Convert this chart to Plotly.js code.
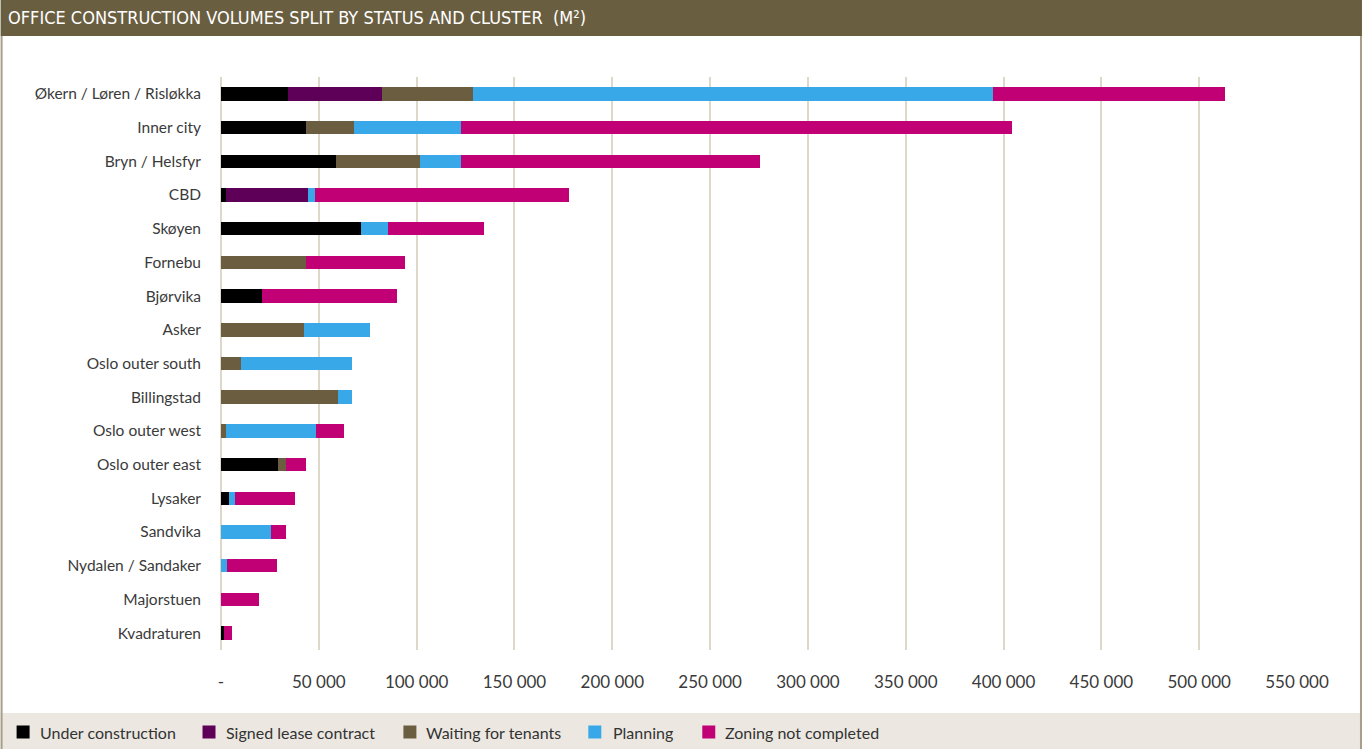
<!DOCTYPE html>
<html>
<head>
<meta charset="utf-8">
<script src="https://cdn.plot.ly/plotly-3.0.1.min.js"></script>
<style>
html,body{margin:0;padding:0;background:#fff;overflow:hidden;}
#chart{position:absolute;left:0;top:0;width:1369px;height:749px;}
</style>
</head>
<body>
<div id="chart"></div>
<script>
// ---- data ----
var clusters = ["Økern / Løren / Risløkka","Inner city","Bryn / Helsfyr","CBD","Skøyen","Fornebu","Bjørvika","Asker","Oslo outer south","Billingstad","Oslo outer west","Oslo outer east","Lysaker","Sandvika","Nydalen / Sandaker","Majorstuen","Kvadraturen"];
var underConstruction = [34000,43700,59000,2800,71800,0,21200,0,0,0,0,28900,4300,0,0,0,1300];
var signedLease       = [48500,0,0,41900,0,0,0,0,0,0,0,0,0,0,0,0,0];
var waitingTenants    = [46500,24500,42900,0,0,43700,0,42200,10000,60000,2800,4100,0,0,0,0,0];
var planning          = [265700,54700,21000,3600,13800,0,0,34200,57200,7200,46000,0,3100,25800,3300,0,0];
var zoningNotDone     = [118600,281500,152800,129800,49000,50600,69000,0,0,0,14300,10200,30200,7200,25100,19200,4100];
var seriesNames = ["Under construction","Signed lease contract","Waiting for tenants","Planning","Zoning not completed"];
var tickValues = [0,50000,100000,150000,200000,250000,300000,350000,400000,450000,500000,550000];
var tickLabels = ["-","50 000","100 000","150 000","200 000","250 000","300 000","350 000","400 000","450 000","500 000","550 000"];
var chartTitle = "OFFICE CONSTRUCTION VOLUMES SPLIT BY STATUS AND CLUSTER  (M²)";

// ---- styling ----
var colors = ["#000000","#5E0058","#6B5E40","#38A8E8","#C20076"];
var seriesValues = [underConstruction, signedLease, waitingTenants, planning, zoningNotDone];
var W = 1369, H = 749;
var ML = 220.5, MR = 72, MT = 77, MB = 99;
var PW = W - ML - MR, PH = H - MT - MB;
function px(x){ return (x - ML) / PW; }
function py(y){ return (H - MB - y) / PH; }

var bodyFont = "Lato, 'Open Sans', sans-serif";
var traces = seriesValues.map(function(vals, i){
  return {
    type: "bar", orientation: "h",
    name: seriesNames[i],
    y: clusters, x: vals,
    marker: {color: colors[i], line: {width: 0}},
    hoverinfo: "x+y+name",
    showlegend: false
  };
});

// manual legend (pixel positions of swatches and labels)
var legSwatchX = [16, 202, 403, 588, 702];
var legTextX = [37, 224, 424, 611, 723];
var legY = 732;
var legendShapes = [], legendAnn = [];
seriesNames.forEach(function(n, i){
  legendShapes.push({type: "rect", xref: "paper", yref: "paper",
    x0: px(legSwatchX[i]), x1: px(legSwatchX[i] + 13),
    y0: py(legY - 6.5), y1: py(legY + 6.5),
    fillcolor: colors[i], line: {width: 0}});
  legendAnn.push({xref: "paper", yref: "paper", x: px(legTextX[i]), y: py(legY),
    xanchor: "left", yanchor: "middle", showarrow: false, text: n,
    font: {family: bodyFont, size: 16, color: "#333333"}});
});

var layout = {
  width: W, height: H,
  margin: {l: ML, r: MR, t: MT, b: MB, pad: 0, autoexpand: false},
  paper_bgcolor: "#ffffff", plot_bgcolor: "#ffffff",
  barmode: "stack", bargap: 0.6,
  showlegend: false,
  font: {family: bodyFont, size: 16, color: "#333333"},
  title: {
    text: chartTitle,
    x: 8 / W, xref: "container", xanchor: "left",
    y: 1 - 18 / H, yref: "container", yanchor: "middle",
    font: {family: "'Liberation Sans Narrow','DejaVu Sans Condensed',sans-serif", size: 18, color: "#ffffff"}
  },
  xaxis: {
    range: [0, 550000], fixedrange: true, automargin: false,
    tickvals: tickValues, ticktext: tickLabels,
    showgrid: true, gridcolor: "#DDD8C9", gridwidth: 2,
    zeroline: false, showline: false, ticks: "",
    ticklabelstandoff: 20,
    tickfont: {family: bodyFont, size: 17, color: "#3a3a3a"}
  },
  yaxis: {
    autorange: "reversed", type: "category", fixedrange: true, automargin: false,
    showgrid: false, zeroline: false, showline: false, ticks: "",
    ticklabelstandoff: 19,
    tickfont: {family: bodyFont, size: 15.5, color: "#3a3a3a"}
  },
  annotations: legendAnn,
  shapes: [
    {type: "rect", xref: "paper", yref: "paper", x0: px(0), x1: px(1362), y0: py(0), y1: py(36), fillcolor: "#6A5E41", line: {width: 0}, layer: "below"},
    {type: "rect", xref: "paper", yref: "paper", x0: px(0), x1: px(1361), y0: py(713), y1: py(749), fillcolor: "#ECE8E1", line: {width: 0}, layer: "below"},
    {type: "line", xref: "paper", yref: "paper", x0: px(1), x1: px(1), y0: py(36), y1: py(749), line: {color: "#A79E8B", width: 2}},
    {type: "line", xref: "paper", yref: "paper", x0: px(1361), x1: px(1361), y0: py(36), y1: py(749), line: {color: "#A79E8B", width: 2}},
    {type: "line", xref: "paper", yref: "paper", x0: 0, x1: 0, y0: 0, y1: 1, line: {color: "#DDD8C9", width: 2}, layer: "below"}
  ].concat(legendShapes)
};

Plotly.newPlot("chart", traces, layout, {displayModeBar: false});
</script>
</body>
</html>
